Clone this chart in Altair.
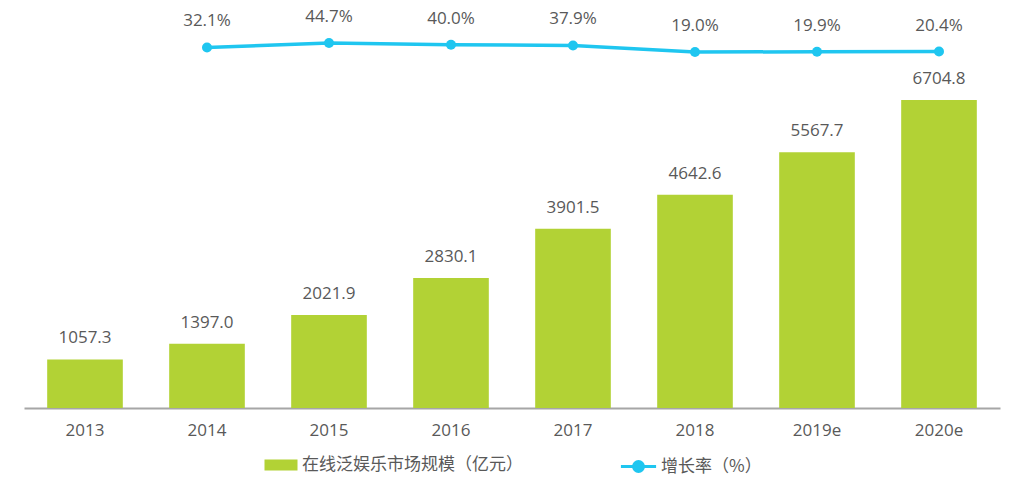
import altair as alt
import pandas as pd

years = ["2013", "2014", "2015", "2016", "2017", "2018", "2019e", "2020e"]
market = [1057.3, 1397.0, 2021.9, 2830.1, 3901.5, 4642.6, 5567.7, 6704.8]
growth_years = ["2014", "2015", "2016", "2017", "2018", "2019e", "2020e"]
growth = [32.1, 44.7, 40.0, 37.9, 19.0, 19.9, 20.4]

bar_name = "在线泛娱乐市场规模（亿元）"
line_name = "增长率（%）"

BAR = "#b2d235"
LINE = "#1fc6f0"
TXT = "#595959"
FONT = "'Open Sans', 'Noto Sans CJK SC', sans-serif"
CJK = "'Noto Sans CJK SC', sans-serif"

bars_df = pd.DataFrame({"year": years, "value": market, "s": bar_name,
                        "label": [f"{v:.1f}" for v in market]})
line_df = pd.DataFrame({"year": growth_years, "g": growth, "s": line_name,
                        "label": [f"{v:.1f}%" for v in growth]})

x = alt.X("year:N", sort=years, title=None,
          scale=alt.Scale(paddingInner=0.38, paddingOuter=0.19),
          axis=alt.Axis(labelAngle=0, ticks=False, domainColor="#a6a6a6", domainWidth=2,
                        labelFontSize=17, labelColor=TXT, labelFont=FONT, labelPadding=14))
x2 = alt.X("year:N", sort=years, title=None)

ybar = alt.Y("value:Q", scale=alt.Scale(domain=[0, 8880]), axis=None)
yline = alt.Y("g:Q", scale=alt.Scale(domain=[-1000, 168]), axis=None)

bars = alt.Chart(bars_df).mark_bar().encode(
    x=x, y=ybar,
    fill=alt.Fill("s:N", scale=alt.Scale(domain=[bar_name], range=[BAR]),
                  legend=alt.Legend(title=None, orient="none", legendX=246, legendY=454,
                                    symbolType="M-1.5,-0.5H1.5V0.5H-1.5Z", symbolSize=484,
                                    symbolStrokeWidth=0, labelOffset=10, padding=0,
                                    labelLimit=400,
                                    labelFontSize=17, labelColor=TXT, labelFont=CJK)),
)
bar_text = alt.Chart(bars_df).mark_text(dy=-16, baseline="alphabetic", fontSize=17,
                                        color=TXT, font=FONT).encode(
    x=x2, y=ybar, text="label:N")

bar_layer = alt.layer(bars, bar_text)

line = alt.Chart(line_df).mark_line(strokeWidth=3.5).encode(
    x=x2, y=yline,
    stroke=alt.Stroke("s:N", scale=alt.Scale(domain=[line_name], range=[LINE]),
                      legend=alt.Legend(title=None, orient="none", legendX=602, legendY=454,
                                        symbolType="M-1.6,0H1.6M0.45,0A0.45,0.45,0,1,1,-0.45,0A0.45,0.45,0,1,1,0.45,0Z",
                                        symbolSize=484, symbolStrokeWidth=3,
                                        symbolFillColor=LINE, labelOffset=10, padding=0,
                                        labelLimit=400,
                                        labelFontSize=17, labelColor=TXT, labelFont=CJK)),
)
pts = alt.Chart(line_df).mark_point(filled=True, size=100, opacity=1, color=LINE).encode(
    x=x2, y=yline)
line_text = alt.Chart(line_df).mark_text(dy=-21, baseline="alphabetic", fontSize=17,
                                         color=TXT, font=FONT).encode(
    x=x2, y=yline, text="label:N")
line_layer = alt.layer(line, pts, line_text)

chart = alt.layer(bar_layer, line_layer).resolve_scale(y="independent").properties(
    width=976, height=408,
    background="white",
    autosize=alt.AutoSizeParams(type="none"),
    padding={"left": 24, "top": 0, "right": 27, "bottom": 76},
).configure_view(strokeWidth=0, stroke="transparent")

chart.save("out.html", embed_options={"renderer": "svg", "actions": False})
